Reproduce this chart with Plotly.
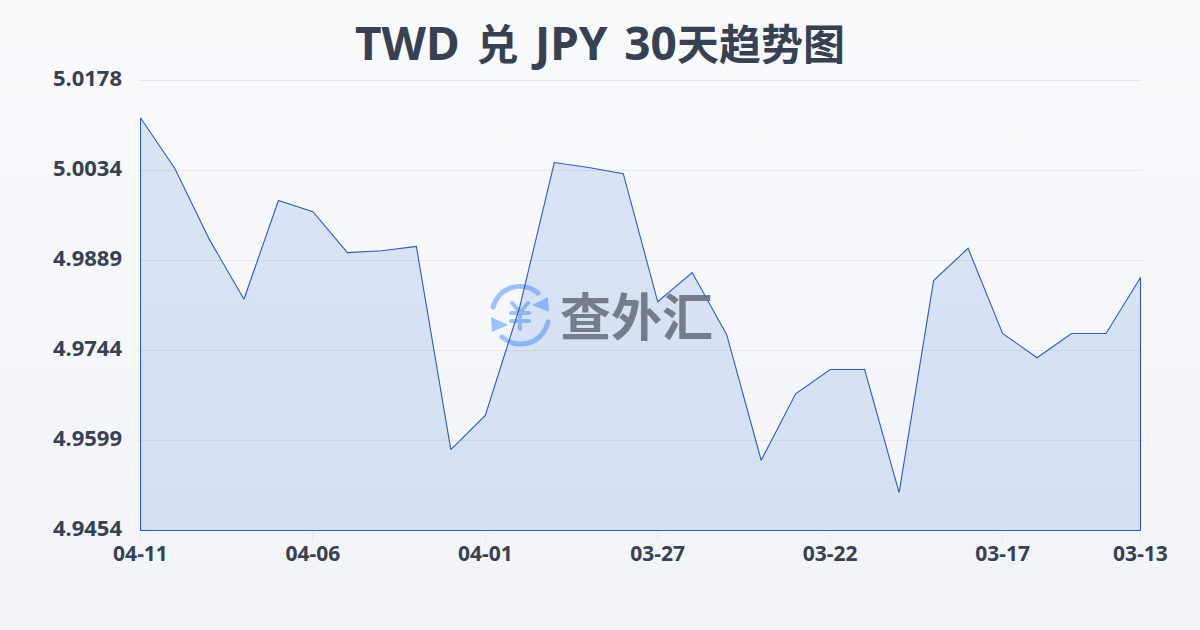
import base64
import plotly.graph_objects as go

WATERMARK = "查外汇"
dates = ["04-11","04-10","04-09","04-08","04-07","04-06","04-05","04-04","04-03","04-02",
         "04-01","03-31","03-30","03-29","03-28","03-27","03-26","03-25","03-24","03-23",
         "03-22","03-21","03-20","03-19","03-18","03-17","03-16","03-15","03-14","03-13"]
rates = [5.0118,5.0036,4.9922,4.9826,4.9985,4.9967,4.9901,4.9904,4.9911,4.9584,
         4.9639,4.9814,5.0046,5.0038,5.0028,4.9822,4.9869,4.9769,4.9567,4.9674,
         4.9713,4.9713,4.9515,4.9856,4.9908,4.9771,4.9732,4.9771,4.9771,4.9861]
y_ticks = [4.9454,4.9599,4.9744,4.9889,5.0034,5.0178]
y_labels = ["4.9454","4.9599","4.9744","4.9889","5.0034","5.0178"]
x_ticks = ["04-11","04-06","04-01","03-27","03-22","03-17","03-13"]

FONT = "'Noto Sans', 'Noto Sans CJK SC', sans-serif"
INK = "#374151"
SP = '<span style="font-size:64px"> </span>'
TITLE = ('<b>TWD' + SP + '<span style="font-size:42px">兑</span>' + SP + 'JPY' + SP + '30'
         '<span style="font-size:42px">天趋势图</span></b>')

# Plot box in pixels: 1.5 px of padding so the closing outline is not clipped at the edges.
L, R, T, B = 139, 58, 79, 98
PW, PH = 1200 - L - R, 630 - T - B
X_PAD = 1.5 * (len(dates) - 1) / 1000
Y_PAD = 1.5 * (y_ticks[-1] - y_ticks[0]) / 450


def px(x):
    return (x - L) / PW


def py(y):
    return (630 - B - y) / PH


bg_svg = ('<svg xmlns="http://www.w3.org/2000/svg" width="1200" height="630" preserveAspectRatio="none">'
          '<defs><linearGradient id="g" x1="0" y1="0" x2="0" y2="1"><stop offset="0" stop-color="#f8fafc"/>'
          '<stop offset="1" stop-color="#f1f3f6"/></linearGradient></defs>'
          '<rect width="1200" height="630" fill="url(#g)"/></svg>')
icon_svg = ('<svg xmlns="http://www.w3.org/2000/svg" width="64" height="64" viewBox="0 0 64 64">'
            '<g fill="none" stroke="#9cc2fb" stroke-width="5" stroke-linecap="round">'
            '<path d="M5 23 A28 28 0 0 1 50 9"/><path d="M60 38 A28 28 0 0 1 14 53"/></g>'
            '<path d="M61 28 L60 13 L44 21 Z" fill="#9cc2fb"/><path d="M3 33 L4 48 L20 41 Z" fill="#9cc2fb"/>'
            '<g fill="none" stroke="#9cc2fb" stroke-width="4" stroke-linecap="round">'
            '<path d="M24 19 L32 28 L40 19"/><path d="M23 29 H41"/><path d="M23 37 H41"/><path d="M32 28 V45"/></g></svg>')


def uri(svg):
    return "data:image/svg+xml;base64," + base64.b64encode(svg.encode()).decode()


fig = go.Figure()
fig.add_trace(go.Scatter(
    x=dates + [dates[-1], dates[0], dates[0]],
    y=rates + [y_ticks[0], y_ticks[0], rates[0]],
    mode="lines", fill="toself", fillcolor="rgba(45,100,220,0.14)",
    line=dict(color="#2b5cc0", width=1.1), hoverinfo="skip", showlegend=False,
))
fig.update_layout(
    width=1200, height=630, autosize=False,
    margin=dict(l=L, r=R, t=T, b=B),
    paper_bgcolor="rgba(0,0,0,0)", plot_bgcolor="rgba(0,0,0,0)",
    font=dict(family=FONT, color=INK),
    title=dict(text=TITLE, x=0.5, xanchor="center", y=0.931, yanchor="middle",
               font=dict(family=FONT, size=46, color=INK)),
    xaxis=dict(type="category", categoryorder="array", categoryarray=dates,
               range=[-X_PAD, len(dates) - 1 + X_PAD],
               tickmode="array", tickvals=x_ticks, ticktext=x_ticks, ticks="outside", ticklen=8,
               tickcolor="#e5e7eb", tickwidth=1, showgrid=False, zeroline=False, showline=False,
               ticklabelstandoff=-5,
               tickfont=dict(family=FONT, size=21, color=INK, weight=700), automargin=False),
    yaxis=dict(range=[y_ticks[0] - Y_PAD, y_ticks[-1] + Y_PAD], tickmode="array", tickvals=y_ticks,
               ticktext=y_labels,
               showgrid=True, gridcolor="#e5e7eb", gridwidth=1, zeroline=False, showline=False,
               ticks="", ticklabelstandoff=16, ticklabelshift=-2,
               tickfont=dict(family=FONT, size=22, color=INK, weight=700), automargin=False),
    images=[
        dict(source=uri(bg_svg), xref="paper", yref="paper", x=px(0), y=py(0), sizex=1200 / PW,
             sizey=630 / PH, xanchor="left", yanchor="top", sizing="stretch", layer="below"),
        dict(source=uri(icon_svg), xref="paper", yref="paper", x=px(488), y=py(284),
             sizex=64 / PW, sizey=64 / PH, xanchor="left", yanchor="top", sizing="stretch", layer="below"),
    ],
    annotations=[dict(text="<b>%s</b>" % WATERMARK, xref="paper", yref="paper",
                      x=px(636), y=py(314), xanchor="center", yanchor="middle", showarrow=False,
                      font=dict(family="'Noto Sans CJK SC', sans-serif", size=51, color="#6b7280"), opacity=0.9)],
)
fig.write_html("out.html", config={"displayModeBar": False},
               post_script="document.documentElement.style.margin='0';document.body.style.margin='0';")
